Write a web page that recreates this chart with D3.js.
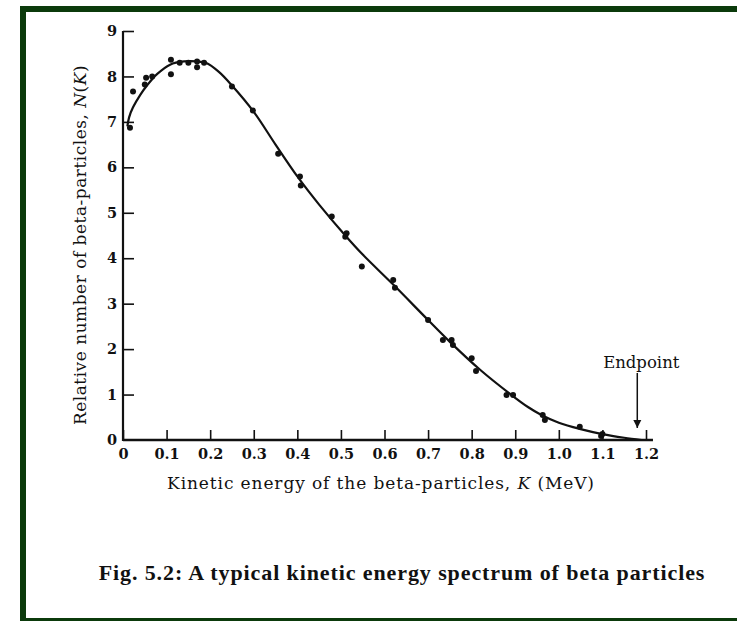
<!DOCTYPE html>
<html>
<head>
<meta charset="utf-8">
<script src="https://cdn.jsdelivr.net/npm/d3@7"></script>
<style>
  body { margin: 0; background: #fff; }
  svg { display: block; }
  .tick text { font-family: "DejaVu Serif", serif; font-weight: bold; font-size: 14.5px; fill: #111; }
</style>
</head>
<body>
<div id="chart"></div>
<script>
// measured points (K in MeV, relative N)
const pointK = [0.016, 0.023, 0.05, 0.053, 0.067, 0.11, 0.11, 0.13, 0.15, 0.17, 0.17, 0.186,
                0.25, 0.298, 0.356, 0.406, 0.408, 0.479, 0.51, 0.513, 0.548, 0.62, 0.624,
                0.70, 0.734, 0.754, 0.757, 0.80, 0.81, 0.88, 0.895, 0.963, 0.968, 1.048, 1.097, 1.10];
const pointN = [6.87, 7.67, 7.82, 7.97, 8.0, 8.05, 8.37, 8.3, 8.3, 8.33, 8.2, 8.3,
                7.78, 7.25, 6.3, 5.8, 5.6, 4.92, 4.47, 4.55, 3.82, 3.52, 3.35,
                2.64, 2.2, 2.2, 2.09, 1.8, 1.52, 0.99, 0.99, 0.55, 0.44, 0.29, 0.09, 0.13];

// fitted curve
const curveK = [0.010, 0.014, 0.023, 0.04, 0.055, 0.078, 0.108, 0.14, 0.17, 0.19, 0.22, 0.25,
                0.30, 0.35, 0.40, 0.45, 0.51, 0.55, 0.62, 0.70, 0.75, 0.82, 0.89, 0.93,
                0.96, 1.0, 1.05, 1.10, 1.15, 1.19];
const curveN = [6.9, 7.1, 7.32, 7.6, 7.8, 8.05, 8.26, 8.33, 8.33, 8.3, 8.1, 7.8,
                7.22, 6.5, 5.8, 5.18, 4.5, 4.08, 3.42, 2.64, 2.16, 1.54, 1.0, 0.72,
                0.55, 0.38, 0.24, 0.13, 0.05, 0.0];

const xTicks = [0, 0.1, 0.2, 0.3, 0.4, 0.5, 0.6, 0.7, 0.8, 0.9, 1.0, 1.1, 1.2];
const yTicks = [0, 1, 2, 3, 4, 5, 6, 7, 8, 9];
const endpointK = 1.18;

const W = 737, H = 621;
const svg = d3.select("#chart").append("svg")
    .attr("width", W).attr("height", H);

// dark green frame (left, top, bottom)
svg.append("path")
   .attr("d", `M23,${H} V9 H${W}`)
   .attr("fill", "none")
   .attr("stroke", "#0b3a0b")
   .attr("stroke-width", 6);
svg.append("path")
   .attr("d", `M23,${H - 1.5} H${W}`)
   .attr("fill", "none")
   .attr("stroke", "#0b3a0b")
   .attr("stroke-width", 3);

const x = d3.scaleLinear().domain([0, 1.2]).range([123, 646]);
const y = d3.scaleLinear().domain([0, 9]).range([440, 31]);

// x axis
const gx = svg.append("g")
   .attr("transform", `translate(0,${y(0)})`)
   .call(d3.axisBottom(x).tickValues(xTicks).tickSize(-10).tickSizeOuter(0).tickPadding(9)
          .tickFormat(d => d === 0 ? "0" : d3.format(".1f")(d)));
gx.select(".domain").remove();
gx.selectAll(".tick line").attr("stroke", "#111").attr("stroke-width", 1.6);
svg.append("line")
   .attr("x1", x(0)).attr("x2", x(1.216))
   .attr("y1", y(0)).attr("y2", y(0))
   .attr("stroke", "#111").attr("stroke-width", 2.4);

// y axis
const gy = svg.append("g")
   .attr("transform", `translate(${x(0)},0)`)
   .call(d3.axisLeft(y).tickValues(yTicks).tickSize(-11).tickSizeOuter(0).tickPadding(6));
gy.select(".domain").remove();
gy.selectAll(".tick line").attr("stroke", "#111").attr("stroke-width", 1.6);
gy.selectAll(".tick").filter(d => d === 0).select("line").remove();
svg.append("line")
   .attr("x1", x(0)).attr("x2", x(0))
   .attr("y1", y(9)).attr("y2", y(0) + 1)
   .attr("stroke", "#111").attr("stroke-width", 2.2);

// fitted curve
const line = d3.line()
   .x((d, i) => x(curveK[i]))
   .y((d, i) => y(curveN[i]))
   .curve(d3.curveCatmullRom.alpha(0.5));
svg.append("path")
   .datum(curveK)
   .attr("d", line)
   .attr("fill", "none")
   .attr("stroke", "#111")
   .attr("stroke-width", 2.2);

// data points
svg.selectAll("circle.pt")
   .data(pointK)
   .enter()
   .append("circle")
   .attr("class", "pt")
   .attr("cx", d => x(d))
   .attr("cy", (d, i) => y(pointN[i]))
   .attr("r", 3)
   .attr("fill", "#111");

// endpoint arrow
svg.append("defs").append("marker")
   .attr("id", "arrow")
   .attr("viewBox", "0 0 10 10")
   .attr("refX", 10).attr("refY", 5)
   .attr("markerWidth", 8).attr("markerHeight", 9)
   .attr("markerUnits", "userSpaceOnUse")
   .attr("orient", "auto")
   .append("path")
   .attr("d", "M0,0 L10,5 L0,10 Z")
   .attr("fill", "#111");
svg.append("line")
   .attr("x1", x(endpointK)).attr("x2", x(endpointK))
   .attr("y1", 373).attr("y2", y(0) - 12)
   .attr("stroke", "#111").attr("stroke-width", 1.5)
   .attr("marker-end", "url(#arrow)");
svg.append("text")
   .attr("x", x(endpointK) + 4).attr("y", 368)
   .attr("text-anchor", "middle")
   .style("font-family", "DejaVu Serif, serif")
   .style("font-size", "16.5px")
   .attr("fill", "#111")
   .text("Endpoint");

// axis titles
const xt = svg.append("text")
   .attr("x", 381).attr("y", 489)
   .attr("text-anchor", "middle")
   .style("font-family", "DejaVu Serif, serif")
   .style("font-size", "17px")
   .style("letter-spacing", "0.9px")
   .attr("fill", "#111");
xt.append("tspan").text("Kinetic energy of the beta-particles, ");
xt.append("tspan").style("font-style", "italic").text("K");
xt.append("tspan").text(" (MeV)");

const yt = svg.append("text")
   .attr("transform", "translate(86,245) rotate(-90)")
   .attr("text-anchor", "middle")
   .style("font-family", "DejaVu Serif, serif")
   .style("font-size", "17px")
   .style("letter-spacing", "0.5px")
   .attr("fill", "#111");
yt.append("tspan").text("Relative number of beta-particles, ");
yt.append("tspan").style("font-style", "italic").text("N");
yt.append("tspan").text("(");
yt.append("tspan").style("font-style", "italic").text("K");
yt.append("tspan").text(")");

// caption
svg.append("text")
   .attr("x", 402).attr("y", 580)
   .attr("text-anchor", "middle")
   .style("font-family", "Liberation Serif, serif")
   .style("font-weight", "bold")
   .style("font-size", "22px")
   .style("letter-spacing", "0.9px")
   .attr("fill", "#111")
   .text("Fig. 5.2: A typical kinetic energy spectrum of beta particles");
</script>
</body>
</html>
